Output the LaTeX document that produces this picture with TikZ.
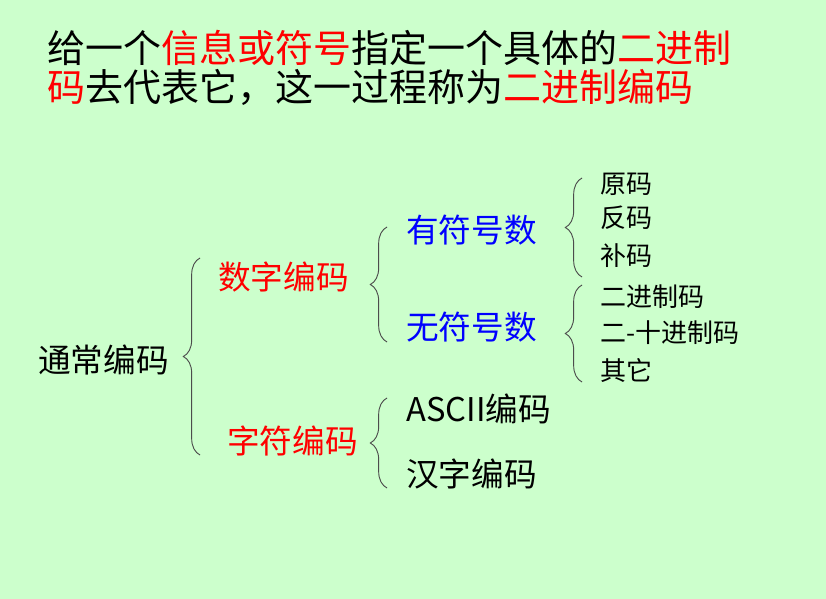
\documentclass[tikz,border=0pt]{standalone}
\usepackage{fontspec}
\setmainfont{Noto Sans CJK SC}
\usepackage{xcolor}
\usepackage{tikz}
\usetikzlibrary{decorations.pathreplacing}
\definecolor{fundo}{RGB}{204,255,204}
\definecolor{vermelho}{RGB}{255,0,0}
\definecolor{azul}{RGB}{0,0,255}
\tikzset{
  titulo/.style={anchor=west,inner sep=0pt,font=\fontsize{28.5}{34}\selectfont},
  ramo/.style={anchor=west,inner sep=0pt,font=\fontsize{24.5}{29}\selectfont},
  folha/.style={anchor=west,inner sep=0pt,font=\fontsize{19.5}{23}\selectfont},
  chave/.style={decorate,decoration={brace,amplitude=12.5pt},draw=black!70,
    line width=0.7pt}
}

\begin{document}
\begin{tikzpicture}[x=0.75pt,y=-0.75pt]
  \useasboundingbox (0,0) rectangle (826,599);
  \fill[fundo] (0,0) rectangle (826,599);
  % titulo
  \node[titulo] (t1) at (47,48)
    {给一个\textcolor{vermelho}{信息或符号}指定一个具体的\textcolor{vermelho}{二进制}};
  \node[titulo] (t2) at (47,87)
    {\textcolor{vermelho}{码}去代表它，这一过程称为\textcolor{vermelho}{二进制编码}};
  % arvore
  \node[ramo] (tc) at (38,360) {通常编码};
  \node[ramo,vermelho] (sz) at (218,277) {数字编码};
  \node[ramo,vermelho] (zf) at (227,441) {字符编码};
  \node[ramo,azul] (yf) at (406,230) {有符号数};
  \node[ramo,azul] (wf) at (406,327) {无符号数};
  \node[ramo] (ascii) at (406,409) {ASCII编码};
  \node[ramo] (hz) at (406,474) {汉字编码};
  \foreach \y/\nome/\lab in {184/ym/原码,218/fm/反码,256/bm/补码,
      297/ejz/二进制码,333/eszj/二-十进制码,371/qt/其它}
    {\node[folha] (\nome) at (600,\y) {\lab};}
  % chaves
  \coordinate (c1a) at (200,455); \coordinate (c1b) at (200,258);
  \coordinate (c2a) at (387,342); \coordinate (c2b) at (387,227);
  \coordinate (c3a) at (387,488); \coordinate (c3b) at (387,398);
  \coordinate (c4a) at (582,277); \coordinate (c4b) at (582,178);
  \coordinate (c5a) at (582,382); \coordinate (c5b) at (582,285);
  \foreach \a/\b in {c1a/c1b,c2a/c2b,c3a/c3b,c4a/c4b,c5a/c5b}
    {\draw[chave] (\a) -- (\b);}
\end{tikzpicture}
\end{document}
